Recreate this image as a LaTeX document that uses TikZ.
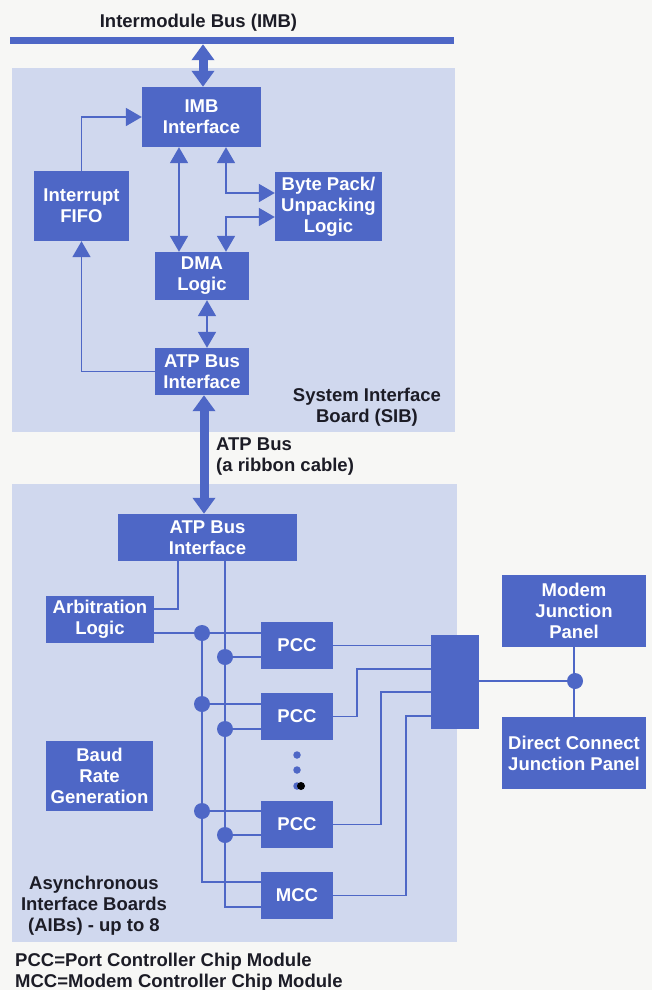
\documentclass[tikz,border=0pt]{standalone}
\usepackage{fontspec}
\setmainfont{Liberation Sans}
\usetikzlibrary{arrows.meta}
\definecolor{boxblue}{RGB}{78,103,198}
\definecolor{panelblue}{RGB}{208,216,238}
\definecolor{inkdark}{RGB}{28,28,38}
\definecolor{paper}{RGB}{247,247,245}
\tikzset{
  unit/.style={rectangle, fill=boxblue, text=white, inner sep=0pt, align=center,
    font=\bfseries\fontsize{18.5}{21}\selectfont},
  outtext/.style={text=inkdark, inner sep=0pt, font=\bfseries\fontsize{18.5}{21}\selectfont},
  wire/.style={draw=boxblue, line width=1.8pt},
  dblarrow/.style={wire, {Triangle[length=16pt,width=18pt]}-{Triangle[length=16pt,width=18pt]}},
  onearrow/.style={wire, -{Triangle[length=16pt,width=18pt]}},
  busarrow/.style={draw=boxblue, line width=9pt,
    {Triangle[length=16pt,width=22pt]}-{Triangle[length=16pt,width=22pt]}},
  joint/.style={circle, fill=boxblue, minimum size=16pt, inner sep=0pt},
  ellip/.style={circle, fill=boxblue, minimum size=7.5pt, inner sep=0pt},
}
\begin{document}
\begin{tikzpicture}[x=1pt, y=-1pt]
\useasboundingbox (0,0) rectangle (652,990);
\fill[paper] (0,0) rectangle (652,990);

% board backgrounds
\fill[panelblue] (12,68) rectangle (455,432);
\fill[panelblue] (12,484) rectangle (457,942);

% intermodule bus
\node[rectangle, fill=boxblue, minimum width=444pt, minimum height=7pt, inner sep=0pt] (imbbus) at (232,40.5) {};
\node[outtext, anchor=base] (title) at (198.5,28) {Intermodule Bus (IMB)};

% column positions of vertical connectors
\coordinate (xA) at (179,0);
\coordinate (xB) at (226,0);
\coordinate (xD) at (207,0);
\coordinate (xE) at (203,0);
\coordinate (xF) at (204,0);
\coordinate (xG) at (178,0);
\coordinate (xC) at (225,0);
\coordinate (xP2) at (357,0);
\coordinate (xP3) at (381,0);
\coordinate (xM) at (406,0);

% System Interface Board
\node[unit, minimum width=119pt, minimum height=60pt] (imb) at (201.5,117) {IMB\\Interface};
\node[unit, minimum width=95pt, minimum height=70pt] (fifo) at (81.5,206) {Interrupt\\FIFO};
\node[unit, minimum width=107pt, minimum height=69pt] (byte) at (328.5,206.5) {Byte Pack/\\Unpacking\\Logic};
\node[unit, minimum width=94pt, minimum height=48pt] (dma) at (202,276) {DMA\\Logic};
\node[unit, minimum width=94pt, minimum height=47pt] (atps) at (202,371.5) {ATP Bus\\Interface};
\node[outtext, align=center] (siblabel) at (367,407) {System Interface\\Board (SIB)};

\draw[busarrow] (xE |- imbbus.south) -- (xE |- imb.north);
\draw[dblarrow] (xA |- imb.south) -- (xA |- dma.north);
\draw[dblarrow] (xB |- imb.south) |- ([yshift=13.5pt]byte.west);
\draw[dblarrow] (xB |- dma.north) |- ([yshift=-10.5pt]byte.west);
\draw[dblarrow] (xD |- dma.south) -- (xD |- atps.north);
\draw[onearrow] (fifo.north) |- (imb.west);
\draw[onearrow] (atps.west) -| (fifo.south);

% ATP bus between the boards
\node[unit, minimum width=179pt, minimum height=47pt] (atpa) at (207.5,537.5) {ATP Bus\\Interface};
\draw[busarrow] (xF |- atps.south) -- (xF |- atpa.north);
\node[outtext, align=left, anchor=west] (atplabel) at (216,457) {ATP Bus\\(a ribbon cable)};

% Asynchronous Interface Board
\node[unit, minimum width=108pt, minimum height=47pt] (arb) at (100,619.5) {Arbitration\\Logic};
\node[unit, minimum width=107pt, minimum height=70pt] (baud) at (99.5,776) {Baud\\Rate\\Generation};
\node[unit, minimum width=72pt, minimum height=47pt] (pcc1) at (297,645.5) {PCC};
\node[unit, minimum width=72pt, minimum height=47pt] (pcc2) at (297,716.5) {PCC};
\node[unit, minimum width=72pt, minimum height=47pt] (pcc3) at (297,824.5) {PCC};
\node[unit, minimum width=72pt, minimum height=47pt] (mcc) at (297,895.5) {MCC};
\node[unit, minimum width=48pt, minimum height=94pt] (conn) at (455,682) {};
\node[outtext, align=center] (aiblabel) at (94,906) {Asynchronous\\Interface Boards\\(AIBs) - up to 8};

% junction panels
\node[unit, minimum width=144pt, minimum height=72pt] (modem) at (574,611) {Modem\\Junction\\Panel};
\node[unit, minimum width=144pt, minimum height=72pt] (direct) at (574,753) {Direct Connect\\Junction Panel};

% tap points on the two module buses
\coordinate (t1) at (202,633);
\coordinate (t2) at (225,657);
\coordinate (t3) at (202,704);
\coordinate (t4) at (225,729);
\coordinate (t5) at (202,811);
\coordinate (t6) at (225,835);
\coordinate (tj) at (575,681);

\draw[wire] (xG |- atpa.south) |- ([yshift=10.5pt]arb.east);
\draw[wire] ([yshift=-13.5pt]arb.east) -- ([yshift=12.5pt]pcc1.west);
\draw[wire] (t1) |- ([yshift=13.5pt]mcc.west);
\draw[wire] (xC |- atpa.south) |- ([yshift=-11.5pt]mcc.west);
\draw[wire] (t2) -- (t2 -| pcc1.west);
\draw[wire] (t3) -- (t3 -| pcc2.west);
\draw[wire] (t4) -- (t4 -| pcc2.west);
\draw[wire] (t5) -- (t5 -| pcc3.west);
\draw[wire] (t6) -- (t6 -| pcc3.west);
% module outputs to the connector block
\draw[wire] (pcc1.east) -- (pcc1.east -| conn.west);
\draw[wire] (pcc2.east) -- (xP2 |- pcc2.east) |- ([yshift=13pt]conn.west);
\draw[wire] (pcc3.east) -- (xP3 |- pcc3.east) |- ([yshift=-10pt]conn.west);
\draw[wire] (mcc.east) -- (xM |- mcc.east) |- ([yshift=-34pt]conn.west);
\draw[wire] (conn.east |- tj) -- (tj);
\draw[wire] (modem.south) -- (direct.north);

% junction dots
\foreach \t [count=\i] in {t1,t2,t3,t4,t5,t6,tj}
  \node[joint] (dot\i) at (\t) {};

% further PCC modules
\node[ellip] (e1) at (297,755) {};
\node[ellip] (e2) at (297,770) {};
\node[ellip] (e3) at (297,786) {};
\fill[black] (301,786) circle (4pt);

% legend
\node[outtext, align=left, anchor=west] (legend) at (15,972.5) {PCC=Port Controller Chip Module\\MCC=Modem Controller Chip Module};
\end{tikzpicture}
\end{document}
